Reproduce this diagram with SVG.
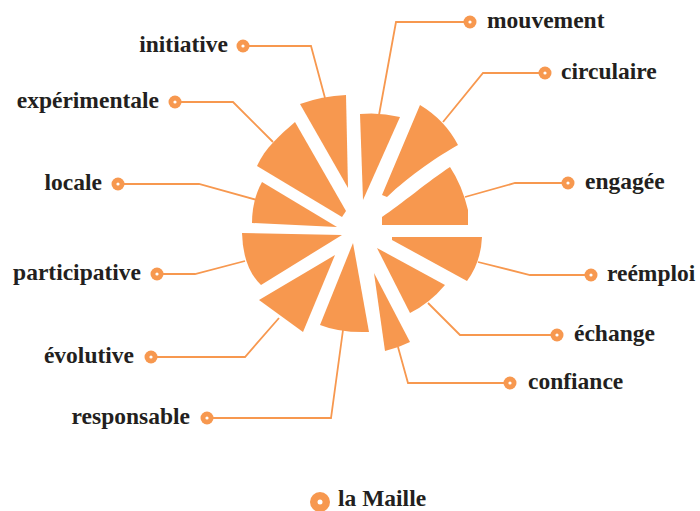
<svg xmlns="http://www.w3.org/2000/svg" width="700" height="511" viewBox="0 0 700 511">
<style>
.w{fill:#f7984f;stroke:none}
.d{fill:#f7984f}
.di{fill:#fff}
.l{fill:none;stroke:#f7984f;stroke-width:1.8;stroke-linejoin:miter}
.t{font-family:"Liberation Serif","Times New Roman",serif;font-weight:bold;font-size:23.5px;fill:#231f20}
.e{text-anchor:end}
</style>
<rect width="700" height="511" fill="#fff"/>
<g id="connectors">
<polyline class="l" points="243,46 311,46 325,98"/>
<polyline class="l" points="175,102 233,102 273,142"/>
<polyline class="l" points="118,184 199,184 257,200"/>
<polyline class="l" points="157,274 195,274 245,261"/>
<polyline class="l" points="151,357 245,357 279,318"/>
<polyline class="l" points="207,418 331,418 343,330"/>
<polyline class="l" points="470,22 396,22 379,115"/>
<polyline class="l" points="545,73 483,73 443,122"/>
<polyline class="l" points="568,183 515,183 465,197"/>
<polyline class="l" points="591,275 530,275 478,262"/>
<polyline class="l" points="557,335 460,335 428,303"/>
<polyline class="l" points="510,383 408,383 398,347"/>
</g>
<g id="initiative">
<path class="w" d="M300,104 Q322,96 346,95 L348,188 Z"/>
<circle class="d" cx="243" cy="46" r="6.5"/><circle class="di" cx="243" cy="46" r="1.6"/>
<text class="t e" x="228" y="52">initiative</text>
</g>
<g id="experimentale">
<path class="w" d="M295,122 C280,135 265,148 257,166 L342,217 L346,211 Z"/>
<circle class="d" cx="175" cy="102" r="6.5"/><circle class="di" cx="175" cy="102" r="1.6"/>
<text class="t e" x="159" y="108">expérimentale</text>
</g>
<g id="locale">
<path class="w" d="M262,182 Q252,200 252,223 L337,227 Z"/>
<circle class="d" cx="118" cy="184" r="6.5"/><circle class="di" cx="118" cy="184" r="1.6"/>
<text class="t e" x="102" y="190">locale</text>
</g>
<g id="participative">
<path class="w" d="M242,233 L342,235 L261,285 Q243,268 242,233 Z"/>
<circle class="d" cx="157" cy="274" r="6.5"/><circle class="di" cx="157" cy="274" r="1.6"/>
<text class="t e" x="141" y="280">participative</text>
</g>
<g id="evolutive">
<path class="w" d="M335,255 L259,300 L303,332 Z"/>
<circle class="d" cx="151" cy="357" r="6.5"/><circle class="di" cx="151" cy="357" r="1.6"/>
<text class="t e" x="134" y="363">évolutive</text>
</g>
<g id="responsable">
<path class="w" d="M353,243 L369,332 Q340,333 320,325 Z"/>
<circle class="d" cx="207" cy="418" r="6.5"/><circle class="di" cx="207" cy="418" r="1.6"/>
<text class="t e" x="190" y="424">responsable</text>
</g>
<g id="mouvement">
<path class="w" d="M360,114 Q380,112 400,117 L363,200 Z"/>
<circle class="d" cx="470" cy="22" r="6.5"/><circle class="di" cx="470" cy="22" r="1.6"/>
<text class="t" x="487" y="28">mouvement</text>
</g>
<g id="circulaire">
<path class="w" d="M382,195 L420,105 Q445,120 458,145 C440,155 410,175 387,197 Z"/>
<circle class="d" cx="545" cy="73" r="6.5"/><circle class="di" cx="545" cy="73" r="1.6"/>
<text class="t" x="561" y="79">circulaire</text>
</g>
<g id="engagee">
<path class="w" d="M382,217 C400,205 430,180 450,167 Q462,185 468,210 L468,225 L382,225 Z"/>
<circle class="d" cx="568" cy="183" r="6.5"/><circle class="di" cx="568" cy="183" r="1.6"/>
<text class="t" x="585" y="189">engagée</text>
</g>
<g id="reemploi">
<path class="w" d="M392,237 L482,237 Q481,262 467,281 L392,240 Z"/>
<circle class="d" cx="591" cy="275" r="6.5"/><circle class="di" cx="591" cy="275" r="1.6"/>
<text class="t" x="607" y="281">reémploi</text>
</g>
<g id="echange">
<path class="w" d="M377,248 L445,285 Q430,303 410,313 Z"/>
<circle class="d" cx="557" cy="335" r="6.5"/><circle class="di" cx="557" cy="335" r="1.6"/>
<text class="t" x="574" y="341">échange</text>
</g>
<g id="confiance">
<path class="w" d="M374,273 L410,342 Q398,348 385,351 Z"/>
<circle class="d" cx="510" cy="383" r="6.5"/><circle class="di" cx="510" cy="383" r="1.6"/>
<text class="t" x="528" y="389">confiance</text>
</g>
<g id="legend">
<circle class="d" cx="320" cy="502" r="10"/><circle class="di" cx="320" cy="502" r="2.5"/>
<text class="t" x="338" y="506">la Maille</text>
</g>
</svg>
